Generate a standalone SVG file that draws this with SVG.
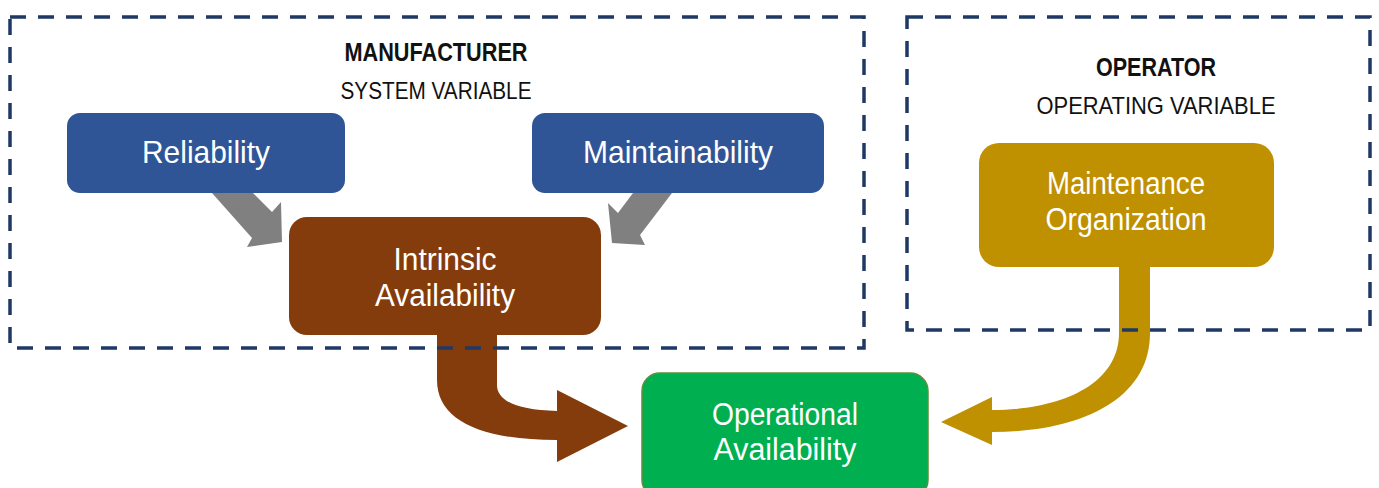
<svg xmlns="http://www.w3.org/2000/svg" width="1379" height="488" viewBox="0 0 1379 488">
<style>
text{font-family:"Liberation Sans",Arial,sans-serif;text-anchor:middle}
.hd{font-weight:bold;font-size:25px;fill:#111}
.sub{font-size:24px;fill:#111}
.nt{font-size:32px;fill:#fff}
.nt2{font-size:31px;fill:#fff}
.frame{fill:none;stroke:#1F3864;stroke-width:3.5;stroke-dasharray:16 12}
</style>
<rect width="1379" height="488" fill="#fff"/>
<g id="connectors">
<path id="rel-to-int" fill="#808080" d="M212,193 L253,193 L272,212 L281,202 L282,242 L247,247 L252,238 Z"/>
<path id="main-to-int" fill="#808080" d="M633,193 L672,193 L640,235 L645,245 L612,243 L608,203 L618,213 Z"/>
<path id="int-to-op" fill="#843C0C" d="M437,330 L437,380 C437,420 480,440 557,440 L557,462 L628,426 L557,390 L557,411 C515,410 497,400 497,385 L497,330 Z"/>
<path id="maint-to-op" fill="#BF9000" d="M1150,262 L1150,333 C1150,400 1080,432 992,432 L992,445 L941,422 L992,397 L992,410 C1060,410 1119,385 1119,333 L1119,262 Z"/>
</g>
<g id="reliability">
<rect x="67" y="113" width="278" height="80" rx="13" fill="#2F5597"/>
<text class="nt" x="206" y="163" textLength="128" lengthAdjust="spacingAndGlyphs">Reliability</text>
</g>
<g id="maintainability">
<rect x="532" y="113" width="292" height="80" rx="13" fill="#2F5597"/>
<text class="nt" x="678" y="163" textLength="190" lengthAdjust="spacingAndGlyphs">Maintainability</text>
</g>
<g id="intrinsic">
<rect x="289" y="217" width="312" height="118" rx="18" fill="#843C0C"/>
<text class="nt" x="445" y="270" textLength="103" lengthAdjust="spacingAndGlyphs">Intrinsic</text>
<text class="nt" x="445" y="306" textLength="140" lengthAdjust="spacingAndGlyphs">Availability</text>
</g>
<g id="maintenance">
<rect x="979" y="143" width="295" height="124" rx="20" fill="#BF9000"/>
<text class="nt2" x="1126" y="194" textLength="158" lengthAdjust="spacingAndGlyphs">Maintenance</text>
<text class="nt2" x="1126" y="230" textLength="161" lengthAdjust="spacingAndGlyphs">Organization</text>
</g>
<g id="operational">
<rect x="642" y="373" width="286" height="125" rx="18" fill="#00B050" stroke="#5E8E3C" stroke-width="1.5"/>
<text class="nt2" x="785" y="425" textLength="146" lengthAdjust="spacingAndGlyphs">Operational</text>
<text class="nt2" x="785" y="460" textLength="143" lengthAdjust="spacingAndGlyphs">Availability</text>
</g>
<g id="manufacturer">
<rect class="frame" x="10" y="17" width="854" height="331"/>
<text class="hd" x="436" y="61" textLength="183" lengthAdjust="spacingAndGlyphs">MANUFACTURER</text>
<text class="sub" x="436" y="99" textLength="191" lengthAdjust="spacingAndGlyphs">SYSTEM VARIABLE</text>
</g>
<g id="operator">
<rect class="frame" x="907" y="17" width="463" height="313"/>
<text class="hd" x="1156" y="76" textLength="120" lengthAdjust="spacingAndGlyphs">OPERATOR</text>
<text class="sub" x="1156" y="114" textLength="239" lengthAdjust="spacingAndGlyphs">OPERATING VARIABLE</text>
</g>
</svg>
